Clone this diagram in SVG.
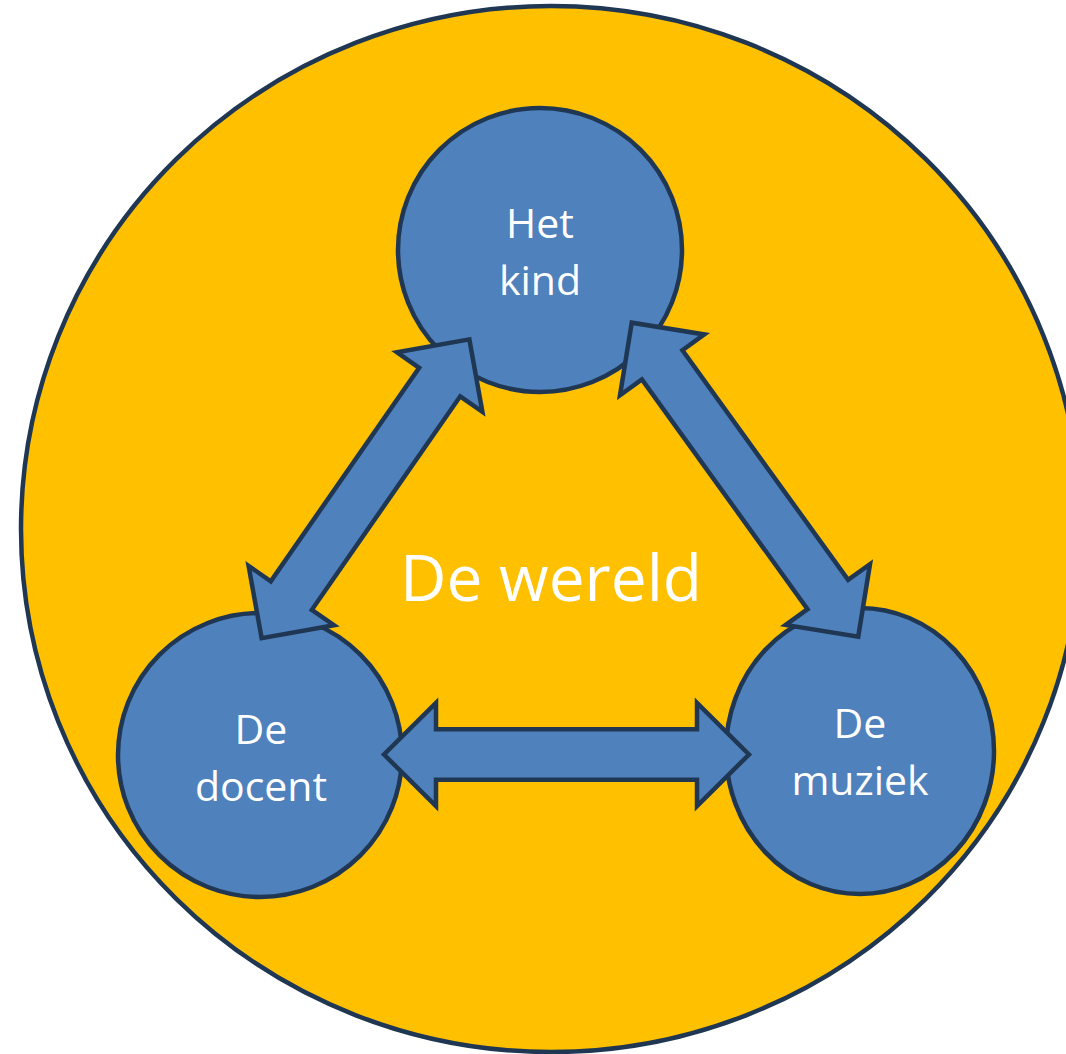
<svg xmlns="http://www.w3.org/2000/svg" width="1066" height="1054" viewBox="0 0 1066 1054">
<style>
.node{fill:#4F81BD;stroke:#1F3753;stroke-width:4.5}
.arrow{fill:#4F81BD;stroke:#1F3753;stroke-width:4.5;stroke-linejoin:miter;stroke-miterlimit:10}
.lbl{font-family:"Open Sans","Noto Sans",sans-serif;font-size:41px;fill:#FFFFFF;text-anchor:middle}
.big{font-family:"Open Sans","Noto Sans",sans-serif;font-size:64px;fill:#FFFFFF;text-anchor:middle}
</style>
<g id="wereld">
<ellipse cx="551" cy="529" rx="530" ry="523" fill="#FFC000" stroke="#1F3753" stroke-width="4.5"/>
<text class="big" x="551" y="601">De wereld</text>
</g>
<g id="kind">
<circle class="node" cx="540" cy="250" r="142"/>
<text class="lbl" x="540" y="238">Het</text>
<text class="lbl" x="540" y="295">kind</text>
</g>
<g id="docent">
<circle class="node" cx="260" cy="755" r="142"/>
<text class="lbl" x="261" y="744">De</text>
<text class="lbl" x="261" y="801">docent</text>
</g>
<g id="muziek">
<ellipse class="node" cx="860" cy="751" rx="134" ry="143"/>
<text class="lbl" x="860" y="738">De</text>
<text class="lbl" x="860" y="795">muziek</text>
</g>
<g id="connectors">
<g class="arrow" transform="translate(365.5,488.8) rotate(-55.2)"><polygon points="182,0 130,-52 130,-25 -130,-25 -130,-52 -182,0 -130,52 -130,25 130,25 130,52"/></g>
<g class="arrow" transform="translate(745,479.7) rotate(54.2)"><polygon points="193.6,0 141.6,-52 141.6,-25 -141.6,-25 -141.6,-52 -193.6,0 -141.6,52 -141.6,25 141.6,25 141.6,52"/></g>
<g class="arrow" transform="translate(566.5,754.5)"><polygon points="182.5,0 130.5,-51.5 130.5,-25.3 -130.5,-25.3 -130.5,-51.5 -182.5,0 -130.5,51.5 -130.5,25.3 130.5,25.3 130.5,51.5"/></g>
</g>
</svg>
